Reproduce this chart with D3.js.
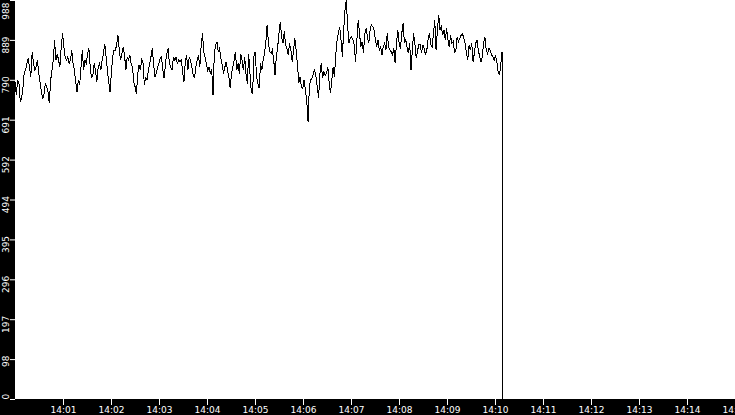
<!DOCTYPE html>
<html>
<head>
<meta charset="utf-8">
<script src="https://cdn.jsdelivr.net/npm/d3@7"></script>
<style>
  body { margin: 0; background: #000; }
  svg { display: block; }
</style>
</head>
<body>
<div id="chart"></div>
<script>
// samples, one every sampleStep seconds from 14:00:00
var sampleStep = 1.65;
var startTime = new Date(2000, 0, 1, 14, 0, 0);
var endTime = new Date(2000, 0, 1, 14, 15, 0);

var readings = [
    785, 752, 789, 781, 736, 744, 769, 810, 814, 831,
    843, 822, 798, 860, 831, 814, 822, 839, 806, 785,
    761, 744, 756, 781, 773, 761, 732, 789, 814, 839,
    888, 839, 855, 839, 822, 872, 905, 872, 847, 839,
    847, 831, 839, 864, 831, 814, 785, 761, 789, 777,
    822, 864, 814, 839, 831, 855, 868, 822, 794, 802,
    831, 814, 785, 822, 831, 814, 839, 855, 880, 847,
    814, 785, 761, 806, 847, 864, 864, 876, 901, 864,
    839, 855, 872, 851, 814, 847, 839, 851, 831, 822,
    785, 773, 756, 806, 827, 814, 843,
    831, 777, 798, 789, 814, 831, 847, 868, 831, 798,
    806, 822, 831, 843, 847, 814, 794, 831, 855, 868,
    831, 822, 814, 847, 839, 847, 831, 839, 835, 839,
    810, 785, 835, 851, 814, 847, 839, 822, 802, 794,
    822, 839, 851, 822, 872, 905, 860, 847, 831, 814,
    822, 806, 818, 752, 855, 876, 884, 860, 868, 843,
    827, 806, 822, 835, 814, 798, 769, 806, 822, 839,
    860, 814, 831, 806, 855, 839, 814, 847, 806, 781,
    855, 806, 761,
    757, 848, 860, 798, 782, 769, 831, 815, 839, 856,
    881, 926, 881, 860, 856, 864, 839, 802, 848, 872,
    905, 934, 897, 881, 910, 877, 868, 852, 881, 864,
    835, 864, 893, 864, 827, 782, 798, 773, 769, 790,
    765, 740, 687, 773, 790, 794, 806, 815, 798, 773,
    745, 806, 831, 794, 811, 802, 806, 823, 782, 757,
    790, 823, 798, 852, 889, 905, 922, 889, 848, 914,
    963, 988, 922, 881, 893, 897, 889, 877, 835, 889,
    938, 905, 872, 885, 856, 905, 918, 897, 881, 914,
    926, 922, 914, 889, 872,
    889, 864, 872, 852, 872, 881, 864, 905, 872, 864,
    860, 852, 868, 831, 881, 914, 881, 868, 905, 930,
    881, 889, 872, 856, 881, 815, 864, 905, 877, 844,
    864, 877, 877, 856, 877, 868, 852, 864, 893, 905,
    877, 872, 905, 938, 864, 914, 951, 914, 922, 901,
    914, 889, 918, 889, 872, 901, 881, 885, 856, 864,
    897, 885, 893, 901, 905, 893, 881, 856, 839, 877,
    864, 881, 835, 856, 881, 889, 864, 848, 835, 848,
    881, 897, 864, 856, 868, 864, 852, 848, 839, 852,
    835, 811, 802, 827, 860
];
// the feed stops: last two readings fall at the final timestamp
var dropReadings = [431, 0];

var yMax = 988;
var yTickCount = 10;

var svgWidth = 735;
var svgHeight = 415;
var margin = { top: 0, right: 0, bottom: 16, left: 15 };
var height = svgHeight - margin.top - margin.bottom;

var svg = d3.select("#chart")
    .append("svg")
    .attr("width", svgWidth)
    .attr("height", svgHeight)
    .style("background", "#000");

svg.append("rect")
    .attr("x", margin.left)
    .attr("y", margin.top)
    .attr("width", svgWidth - margin.left - margin.right)
    .attr("height", height)
    .attr("fill", "#fff");

var x = d3.scaleTime()
    .domain([startTime, endTime])
    .range([margin.left, svgWidth - margin.right]);

var y = d3.scaleLinear()
    .domain([0, yMax])
    .range([height, margin.top]);

var points = readings.map(function (v, i) {
    return { t: new Date(+startTime + i * sampleStep * 1000), v: v };
});
var lastT = points[points.length - 1].t;
dropReadings.forEach(function (v) {
    points.push({ t: lastT, v: v });
});

var line = d3.line()
    .x(d => x(d.t))
    .y(d => y(d.v));

svg.append("path")
    .datum(points)
    .attr("d", line)
    .attr("fill", "none")
    .attr("stroke", "#000")
    .attr("stroke-width", 1)
    .attr("shape-rendering", "crispEdges");

// x axis
var minuteTicks = d3.timeMinute.range(new Date(+startTime + 60000), new Date(+endTime + 1));
var bottomAxis = d3.axisBottom(x)
    .tickValues(minuteTicks)
    .tickSize(6)
    .tickPadding(2)
    .tickFormat(d3.timeFormat("%H:%M"));

var xAxisG = svg.append("g")
    .attr("transform", `translate(0, ${height})`)
    .call(bottomAxis);

// y axis
var yTicks = d3.range(0, yTickCount + 1).map(i => yMax * i / yTickCount);
var leftAxis = d3.axisLeft(y)
    .tickValues(yTicks)
    .tickSize(5)
    .tickFormat(d => Math.floor(d + 1e-9));

var yAxisG = svg.append("g")
    .attr("transform", `translate(${margin.left}, 0)`)
    .call(leftAxis);

[xAxisG, yAxisG].forEach(function (g) {
    g.select(".domain").remove();
    g.selectAll("line").attr("stroke", "#fff");
    g.selectAll("text")
        .attr("fill", "#fff")
        .attr("font-family", "DejaVu Sans, sans-serif")
        .attr("font-size", "9px");
});

// rotated y labels, kept inside the plot height
yAxisG.selectAll(".tick text")
    .attr("x", null)
    .attr("dy", null)
    .attr("text-anchor", "end")
    .attr("transform", function (d) {
        var len = this.getComputedTextLength();
        var top = y(d) - 4;
        if (top < 2) top = 2;
        if (top + len > height) top = height - len;
        return `translate(-6, ${top - y(d)}) rotate(-90)`;
    });
</script>
</body>
</html>
